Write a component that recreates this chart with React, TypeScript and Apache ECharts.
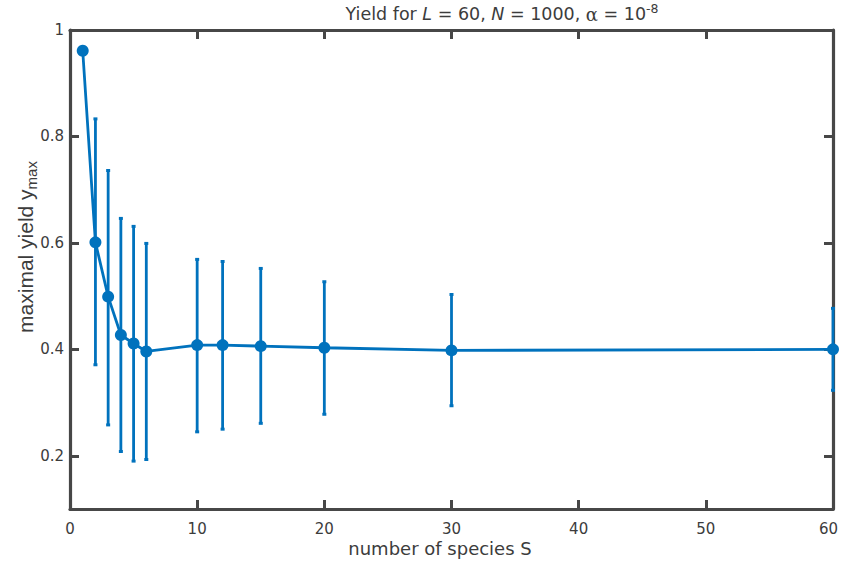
import React, { useEffect, useRef } from "react";
import * as echarts from "echarts";

const speciesCounts = [1, 2, 3, 4, 5, 6, 10, 12, 15, 20, 30, 60];
const meanYield = [0.961, 0.601, 0.499, 0.427, 0.411, 0.396, 0.408, 0.408, 0.406, 0.403, 0.398, 0.4];
const upperYield: (number | null)[] = [null, 0.833, 0.736, 0.646, 0.631, 0.599, 0.569, 0.565, 0.552, 0.527, 0.503, 0.477];
const lowerYield: (number | null)[] = [null, 0.371, 0.258, 0.208, 0.19, 0.193, 0.245, 0.25, 0.261, 0.278, 0.294, 0.323];
const yTickValues = [0.2, 0.4, 0.6, 0.8, 1.0];
const xTickValues = [0, 10, 20, 30, 40, 50, 60];

const BLUE = "#0072BD";
const AXIS = "#474747";
const TEXT = "#3c3c3c";
const FONT = "DejaVu Sans";

export default function App() {
  const ref = useRef<HTMLDivElement>(null);
  useEffect(() => {
    if (!ref.current) return;
    const chart = echarts.init(ref.current, undefined, { renderer: "svg" });
    const errData = speciesCounts
      .map((x, i) => [x, lowerYield[i], upperYield[i]])
      .filter((d) => d[1] !== null && d[2] !== null);

    const axisLine = { show: true, onZero: false, lineStyle: { color: AXIS, width: 3.2 } };
    const axisTick = { show: true, inside: true, length: 9, lineStyle: { color: AXIS, width: 3 } };
    const xMax = xTickValues[xTickValues.length - 1];

    const option: any = {
      animation: false,
      grid: { left: 70, right: 8, top: 30, bottom: 55, outerBoundsMode: "none", containLabel: false },
      xAxis: [
        {
          type: "value",
          min: 0,
          max: 60,
          position: "bottom",
          axisLine,
          axisTick: { ...axisTick, customValues: xTickValues },
          axisLabel: {
            customValues: xTickValues,
            color: TEXT,
            fontSize: 15,
            fontFamily: FONT,
            margin: 12,
            formatter: (v: number) => (v === xMax ? "{r|" + v + "}" : String(v)),
            rich: {
              r: { fontSize: 15, fontFamily: FONT, color: TEXT, padding: [0, 9, 0, 0] },
            },
          },
          splitLine: { show: false },
        },
        {
          type: "value",
          min: 0,
          max: 60,
          position: "top",
          axisLine,
          axisTick: { ...axisTick, customValues: xTickValues },
          axisLabel: { show: false },
          splitLine: { show: false },
        },
      ],
      yAxis: [
        {
          type: "value",
          min: 0.1,
          max: 1,
          position: "left",
          axisLine,
          axisTick: { ...axisTick, customValues: yTickValues },
          axisLabel: {
            customValues: yTickValues,
            color: TEXT,
            fontSize: 15,
            fontFamily: FONT,
            margin: 6,
            formatter: (v: number) => String(Number(v.toFixed(1))),
          },
          splitLine: { show: false },
        },
        {
          type: "value",
          min: 0.1,
          max: 1,
          position: "right",
          axisLine,
          axisTick: { ...axisTick, customValues: yTickValues },
          axisLabel: { show: false },
          splitLine: { show: false },
        },
      ],
      graphic: [
        {
          type: "text",
          x: 502,
          y: 14,
          style: {
            text: "Yield for {i|L} = 60, {i|N} = 1000, {g|α} = 10{sup|-8}",
            fill: TEXT,
            fontSize: 17.5,
            fontFamily: FONT,
            align: "center",
            verticalAlign: "middle",
            rich: {
              i: { fontStyle: "italic", fontSize: 17.5, fontFamily: FONT, fill: TEXT },
              g: { fontSize: 18, fontFamily: "DejaVu Serif", fill: TEXT },
              sup: { fontSize: 12.5, fontFamily: FONT, fill: TEXT, padding: [0, 0, 11, 0] },
            },
          },
        },
        {
          type: "text",
          x: 440,
          y: 548,
          style: {
            text: "number of species S",
            fill: TEXT,
            fontSize: 18,
            fontFamily: FONT,
            align: "center",
            verticalAlign: "middle",
          },
        },
        {
          type: "text",
          x: 25,
          y: 247,
          rotation: Math.PI / 2,
          style: {
            text: "maximal yield y{sub|max}",
            fill: TEXT,
            fontSize: 21,
            fontFamily: "Liberation Sans",
            align: "center",
            verticalAlign: "middle",
            rich: {
              sub: { fontSize: 15, fontFamily: "Liberation Sans", fill: TEXT, padding: [12, 0, 0, 0] },
            },
          },
        },
      ],
      series: [
        {
          type: "custom",
          xAxisIndex: 0,
          yAxisIndex: 0,
          clip: false,
          data: errData,
          renderItem: (params: any, api: any) => {
            const x = api.value(0);
            const lo = api.coord([x, api.value(1)]);
            const hi = api.coord([x, api.value(2)]);
            const cap = 2;
            const st = { stroke: BLUE, lineWidth: 2.8 };
            return {
              type: "group",
              children: [
                { type: "line", shape: { x1: hi[0], y1: hi[1], x2: lo[0], y2: lo[1] }, style: st },
                { type: "line", shape: { x1: hi[0] - cap, y1: hi[1], x2: hi[0] + cap, y2: hi[1] }, style: { stroke: BLUE, lineWidth: 3 } },
                { type: "line", shape: { x1: lo[0] - cap, y1: lo[1], x2: lo[0] + cap, y2: lo[1] }, style: { stroke: BLUE, lineWidth: 3 } },
              ],
            };
          },
          z: 3,
        },
        {
          type: "line",
          xAxisIndex: 0,
          yAxisIndex: 0,
          clip: false,
          data: speciesCounts.map((x, i) => [x, meanYield[i]]),
          symbol: "circle",
          symbolSize: 12,
          showSymbol: true,
          lineStyle: { color: BLUE, width: 2.8 },
          itemStyle: { color: BLUE },
          z: 4,
        },
      ],
    };
    chart.setOption(option);
    return () => chart.dispose();
  }, []);
  return (
    <div
      ref={ref}
      style={{ position: "fixed", left: 0, top: 0, width: 841, height: 564, background: "#fff" }}
    />
  );
}
